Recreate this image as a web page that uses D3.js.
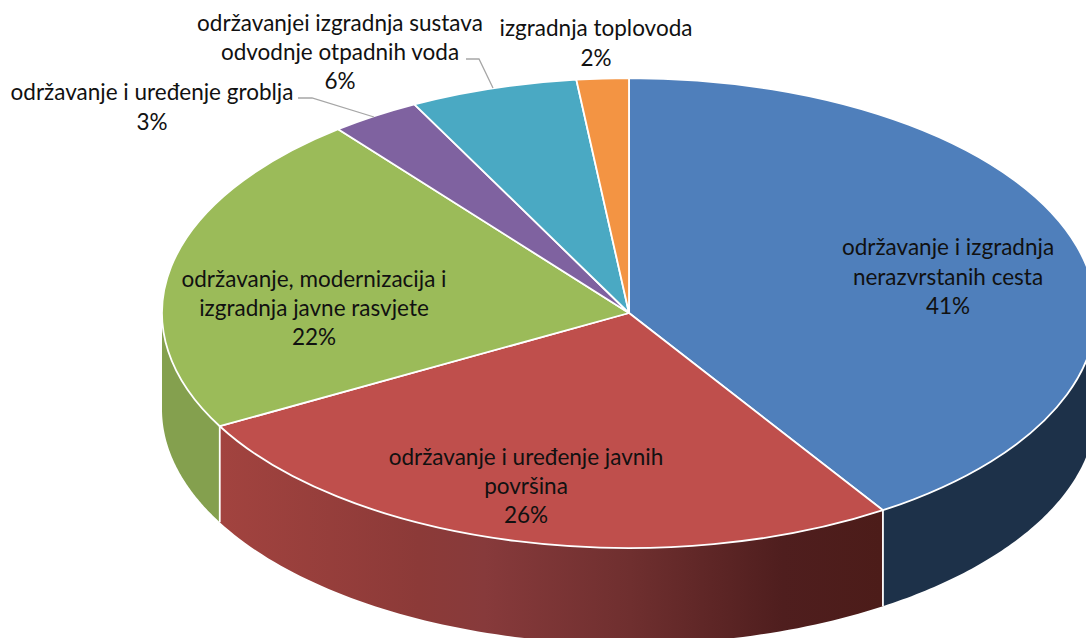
<!DOCTYPE html>
<html><head><meta charset="utf-8">
<script src="https://cdn.jsdelivr.net/npm/d3@7"></script>
<style>html,body{margin:0;padding:0;background:#fff;overflow:hidden}svg{display:block}text{font-family:Lato,"Open Sans",sans-serif;font-size:22.5px;fill:#111}</style>
</head><body>
<svg id="c" width="1086" height="638"></svg>
<script>
const categories = ["održavanje i izgradnja nerazvrstanih cesta","održavanje i uređenje javnih površina","održavanje, modernizacija i izgradnja javne rasvjete","održavanje i uređenje groblja","održavanjei izgradnja sustava odvodnje otpadnih voda","izgradnja toplovoda"];
const values = [40.85, 26.15, 22.3, 3.1, 5.8, 1.8];
const percentLabels = ["41%","26%","22%","3%","6%","2%"];
const labelLines = [["održavanje i izgradnja","nerazvrstanih cesta"],["održavanje i uređenje javnih","površina"],["održavanje, modernizacija i","izgradnja javne rasvjete"],["održavanje i uređenje groblja"],["održavanjei izgradnja sustava","odvodnje otpadnih voda"],["izgradnja toplovoda"]];
const colors = ["#4f7fbb","#bf4f4c","#9bbb59","#7f62a0","#4aa9c3","#f39443"];

const cx=629, cy=313, rx=467, ry=235, depth=96;
const svg=d3.select("#c");
const clip=svg.append("g");
const defs=svg.append("defs");
const g=defs.append("linearGradient").attr("id","redSide").attr("gradientUnits","userSpaceOnUse").attr("x1",220).attr("x2",882).attr("y1",0).attr("y2",0);
[[0,"#a2433f"],[.3,"#8c3a38"],[.4,"#873a3b"],[.62,"#6f2f2f"],[.85,"#4f1e1e"],[1,"#4c1c19"]].forEach(([o,c])=>g.append("stop").attr("offset",o).attr("stop-color",c));

const pie=d3.pie().sort(null).value(d=>d);
const arcs=pie(values);
const px=a=>cx+rx*Math.sin(a), py=a=>cy-ry*Math.cos(a);

const sideFill=["#1d3149","url(#redSide)","#84a04e"];
const area=d3.area().x(px).y0(py).y1(a=>py(a)+depth);
[0,1,2].forEach(i=>{
  const a0=Math.max(arcs[i].startAngle,Math.PI/2), a1=Math.min(arcs[i].endAngle,3*Math.PI/2);
  const n=80, pts=d3.range(n+1).map(k=>a0+(a1-a0)*k/n);
  clip.append("path").attr("d",area(pts)).attr("fill",sideFill[i]);
});
[arcs[0].endAngle,arcs[1].endAngle].forEach(a=>{
  clip.append("line").attr("x1",px(a)).attr("x2",px(a)).attr("y1",py(a)).attr("y2",py(a)+depth).attr("stroke","#fff").attr("stroke-width",1.8);
});
const arc=d3.arc().innerRadius(0).outerRadius(rx);
clip.append("g").attr("transform",`translate(${cx},${cy}) scale(1,${ry/rx})`)
 .selectAll("path").data(arcs).join("path")
 .attr("d",arc).attr("fill",(d,i)=>colors[i])
 .attr("stroke","#fff").attr("stroke-width",1.8).attr("vector-effect","non-scaling-stroke").attr("stroke-linejoin","round");

const leaderXY=[[[298,98],[312,98],[374,117]],[[466,59],[479,59],[493,88]]];
const ll=d3.line();
leaderXY.forEach(p=>svg.append("path").attr("d",ll(p)).attr("fill","none").attr("stroke","#a6a6a6").attr("stroke-width",1.3));

const labelPos=[[948,255,29.5],[526,465,29],[314,287,29],[152,100,30],[340,31,29],[596,36,30]];
arcs.forEach((d,i)=>{
  const [x,y,lh]=labelPos[i];
  const t=svg.append("text").attr("text-anchor","middle");
  [...labelLines[i],percentLabels[i]].forEach((s,k)=>t.append("tspan").attr("x",x).attr("y",y+k*lh).text(s));
});
</script>
</body></html>
